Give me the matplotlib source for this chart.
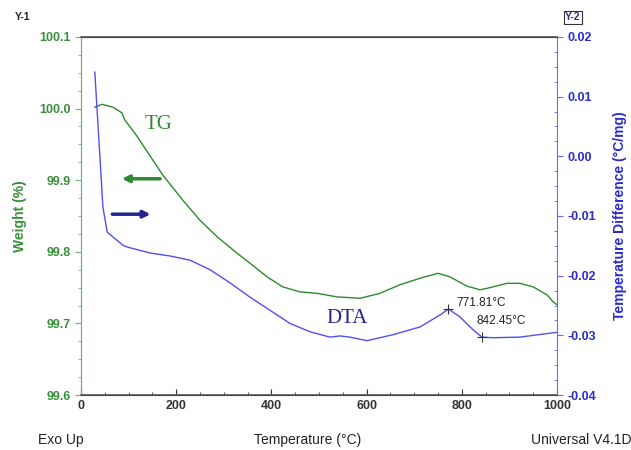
import matplotlib
matplotlib.use("Agg")
import matplotlib.pyplot as plt
from matplotlib.ticker import MultipleLocator, FormatStrFormatter

plt.rcParams['font.family'] = ['Liberation Sans', 'DejaVu Sans']

# TG (weight %) data
tg_temp = [29, 44, 67, 86, 92, 115, 139, 172, 214, 250, 286, 328, 355, 391, 424,
           460, 496, 538, 565, 586, 628, 670, 712, 750, 775, 811, 838, 853, 895, 922,
           950, 979, 992, 1000]
tg_weight = [100.002, 100.006, 100.002, 99.994, 99.984, 99.964, 99.940, 99.907,
             99.872, 99.844, 99.821, 99.798, 99.784, 99.765, 99.751, 99.744, 99.742,
             99.737, 99.736, 99.735, 99.742, 99.754, 99.763, 99.770, 99.765, 99.752,
             99.747, 99.749, 99.756, 99.756, 99.751, 99.740, 99.730, 99.726]

# DTA (temperature difference, °C/mg) data
dta_temp = [29, 46, 55, 88, 97, 145, 187, 229, 271, 313, 355, 397, 439, 481, 523, 544,
            565, 601, 655, 712, 754, 771.81, 796, 824, 842.45, 866, 922, 989, 1000]
dta_value = [0.0141, -0.0085, -0.0127, -0.0149, -0.0152, -0.0162, -0.0167, -0.0174,
             -0.0190, -0.0212, -0.0236, -0.0258, -0.0280, -0.0294, -0.0303, -0.0301,
             -0.0303, -0.0309, -0.0299, -0.0286, -0.0266, -0.0256, -0.0269, -0.0291,
             -0.0303, -0.0304, -0.0303, -0.0296, -0.0295]

peaks_temp = [771.81, 842.45]
peaks_value = [-0.0256, -0.0303]
peak_labels = ["771.81°C", "842.45°C"]

green = "#2f8a2f"
tick_green = "#3a8f3a"
blue = "#5050f0"
tick_blue = "#2b2bd0"
navy = "#23238f"

fig = plt.figure(figsize=(6.31, 4.5), dpi=100)
ax = fig.add_axes([0.1284, 0.1222, 0.7543, 0.7956])
ax2 = ax.twinx()

ax.plot(tg_temp, tg_weight, color=green, lw=1.0)
ax2.plot(dta_temp, dta_value, color=blue, lw=1.0)
ax2.plot(peaks_temp, peaks_value, linestyle='none', marker='+', color='#333333', ms=7, mew=0.8)

ax.set_xlim(0, 1000)
ax.set_ylim(99.6, 100.1)
ax2.set_ylim(-0.04, 0.02)

ax.xaxis.set_major_locator(MultipleLocator(200))
ax.xaxis.set_minor_locator(MultipleLocator(50))
ax.yaxis.set_major_locator(MultipleLocator(0.1))
ax.yaxis.set_minor_locator(MultipleLocator(0.025))
ax2.yaxis.set_major_locator(MultipleLocator(0.01))
ax2.yaxis.set_minor_locator(MultipleLocator(0.0025))

ax.yaxis.set_major_formatter(FormatStrFormatter('%.1f'))
ax2.yaxis.set_major_formatter(FormatStrFormatter('%.2f'))

for sp in ['top', 'bottom']:
    ax2.spines[sp].set_color('#555555')
    ax2.spines[sp].set_linewidth(1.2)
ax2.spines['left'].set_color('#6db36d')
ax2.spines['right'].set_color('#6a6af0')
ax.spines['left'].set_color('#6db36d')
ax.spines['right'].set_visible(False)

ax.tick_params(axis='x', which='both', direction='in', colors='#333333', labelsize=9)
ax.tick_params(axis='x', which='major', length=4)
ax.tick_params(axis='x', which='minor', length=2)
ax.tick_params(axis='y', which='major', direction='out', length=4, colors='#6db36d', labelcolor=tick_green, labelsize=9)
ax.tick_params(axis='y', which='minor', direction='out', length=2.5, colors='#6db36d')
ax2.tick_params(axis='y', which='major', direction='out', length=4, colors='#6a6af0', labelcolor=tick_blue, labelsize=9)
ax2.tick_params(axis='y', which='minor', direction='in', length=2.5, colors='#6a6af0')

for lbl in ax.get_xticklabels() + ax.get_yticklabels() + ax2.get_yticklabels():
    lbl.set_fontweight('bold')

ax.set_ylabel("Weight (%)", color=tick_green, fontsize=10, fontweight='bold', labelpad=9)
ax2.set_ylabel("Temperature Difference (°C/mg)", color=tick_blue, fontsize=10, fontweight='bold', labelpad=12)

fig.text(0.488, 0.022, "Temperature (°C)", ha='center', va='center', fontsize=10, color='#222222')
fig.text(0.097, 0.022, "Exo Up", ha='center', va='center', fontsize=10, color='#222222')
fig.text(0.921, 0.022, "Universal V4.1D", ha='center', va='center', fontsize=10, color='#222222')
fig.text(0.035, 0.962, "Y-1", ha='center', va='center', fontsize=7.5, fontweight='bold', color='#222222')
fig.text(0.908, 0.962, "Y-2", ha='center', va='center', fontsize=7.5, fontweight='bold', color='#333366',
         bbox=dict(boxstyle='square,pad=0.15', fc='white', ec='#333333', lw=0.8))

ax.text(134, 99.978, "TG", fontsize=15, family='Liberation Serif', color=green, va='center', ha='left')
ax2.text(515, -0.0271, "DTA", fontsize=15, family='Liberation Serif', color=navy, va='center', ha='left')

ax2.annotate(peak_labels[0], xy=(peaks_temp[0], peaks_value[0]), xytext=(6, 0),
             textcoords='offset points', fontsize=8.5, color='#222222', va='bottom', ha='left')
ax2.annotate(peak_labels[1], xy=(peaks_temp[1], peaks_value[1]), xytext=(-4, 7),
             textcoords='offset points', fontsize=8.5, color='#222222', va='bottom', ha='left')

ax.annotate("", xy=(80, 99.902), xytext=(172, 99.902),
            arrowprops=dict(arrowstyle='-|>', color=green, lw=2.5, mutation_scale=10))
ax2.annotate("", xy=(152, -0.0097), xytext=(60, -0.0097),
             arrowprops=dict(arrowstyle='-|>', color=navy, lw=2.5, mutation_scale=10))

fig.savefig("out.png", dpi=100)
